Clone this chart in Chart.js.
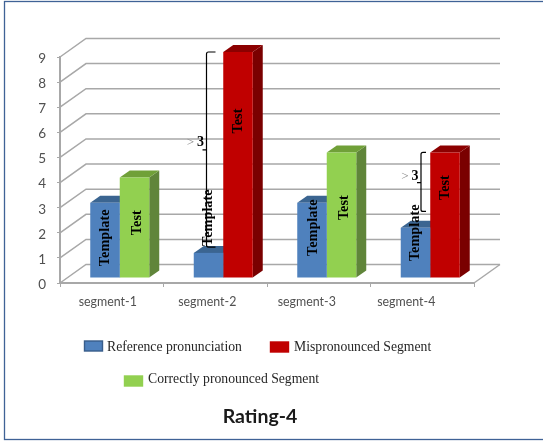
<!DOCTYPE html>
<html>
<head>
<meta charset="utf-8">
<title>Rating-4</title>
<script src="https://cdn.jsdelivr.net/npm/chart.js@4/dist/chart.umd.min.js"></script>
<style>
  html, body { margin: 0; padding: 0; background: #fff; }
  canvas { display: block; }
</style>
</head>
<body>
<canvas id="chart" width="543" height="441"></canvas>
<script>
const segments = ['segment-1', 'segment-2', 'segment-3', 'segment-4'];
const referenceValues = [3, 1, 3, 2];
const mispronouncedValues = [null, 9, null, 5];
const correctValues = [4, null, 5, null];
const valueTicks = [0, 1, 2, 3, 4, 5, 6, 7, 8, 9];
const chartTitle = 'Rating-4';

const SERIF = '"Liberation Serif", "Times New Roman", serif';
const SANS = 'Lato, "Open Sans", sans-serif';
const AXIS_TEXT = '#505050';
const GRID = '#a8a8a8';

// Perspective offsets of the pseudo-3D box
const WALL = { dx: 26, dy: -18.5 };
const BAR_SHIFT = { dx: 8, dy: -5 };
const BAR_DEPTH = { dx: 10, dy: -7 };

function quad(ctx, pts, fill) {
  ctx.fillStyle = fill;
  ctx.beginPath();
  pts.forEach((p, i) => i ? ctx.lineTo(p[0], p[1]) : ctx.moveTo(p[0], p[1]));
  ctx.closePath();
  ctx.fill();
}

// Left-facing curly brace between two pixel heights
function brace(ctx, x, top, bottom, mid, hook, tip) {
  ctx.strokeStyle = '#000';
  ctx.lineWidth = 1.2;
  ctx.beginPath();
  ctx.moveTo(x + hook, top);
  ctx.lineTo(x + 2, top);
  ctx.quadraticCurveTo(x, top, x, top + 2);
  ctx.lineTo(x, bottom - 2);
  ctx.quadraticCurveTo(x, bottom, x + 2, bottom);
  ctx.lineTo(x + hook, bottom);
  ctx.moveTo(x, mid);
  ctx.lineTo(x - tip, mid);
  ctx.stroke();
}

const rendering3d = {
  id: 'rendering3d',
  beforeDatasetsDraw(chart, args, opts) {
    const { ctx, scales: { x, y } } = chart;
    const left = x.left, right = x.right;
    ctx.save();

    // Back wall lines, their diagonals and the floor edge
    ctx.strokeStyle = GRID;
    ctx.lineWidth = 1.5;
    valueTicks.forEach(v => {
      const py = y.getPixelForValue(v);
      ctx.beginPath();
      ctx.moveTo(left, py);
      ctx.lineTo(left + WALL.dx, py + WALL.dy);
      ctx.lineTo(right + WALL.dx, py + WALL.dy);
      ctx.stroke();
    });
    const floor = y.getPixelForValue(0);
    ctx.beginPath();
    ctx.moveTo(right, floor);
    ctx.lineTo(right + WALL.dx, floor + WALL.dy);
    ctx.stroke();

    // Top and side faces sit behind every front face
    chart.data.datasets.forEach((ds, di) => {
      const meta = chart.getDatasetMeta(di);
      meta.data.forEach((bar, i) => {
        if (ds.data[i] === null) return;
        const half = bar.width / 2;
        const l = bar.x - half + BAR_SHIFT.dx;
        const r = bar.x + half + BAR_SHIFT.dx;
        const t = bar.y + BAR_SHIFT.dy;
        const b = bar.base + BAR_SHIFT.dy;
        const dx = BAR_DEPTH.dx, dy = BAR_DEPTH.dy;
        quad(ctx, [[r, t], [r + dx, t + dy], [r + dx, b + dy], [r, b]], ds.sideColor);
        quad(ctx, [[l, t], [l + dx, t + dy], [r + dx, t + dy], [r, t]], ds.topColor);
      });
    });
    ctx.restore();

    // Front faces are drawn by the bar controller, moved onto the box's front plane
    ctx.save();
    ctx.translate(BAR_SHIFT.dx, BAR_SHIFT.dy);
  },
  afterDatasetsDraw(chart) {
    chart.ctx.restore();
  },
  afterDraw(chart, args, opts) {
    const { ctx, scales: { x, y } } = chart;
    ctx.save();

    // Outer frame, open past the right edge
    ctx.strokeStyle = '#3f6296';
    ctx.lineWidth = 1.3;
    ctx.strokeRect(4.5, 1.5, 600, 438);

    // Category labels sit on a slightly tighter pitch than the bars
    ctx.fillStyle = AXIS_TEXT;
    ctx.textAlign = 'center';
    ctx.textBaseline = 'middle';
    ctx.font = '12.4px ' + SANS;
    segments.forEach((name, i) => {
      ctx.fillText(name, x.getPixelForValue(i) - 4 - 4 * i, y.bottom + 19);
    });

    // Rotated labels inside the bars
    ctx.fillStyle = '#000';
    ctx.font = 'bold 14.3px ' + SERIF;
    opts.barNotes.forEach(note => {
      const bar = chart.getDatasetMeta(note.dataset).data[note.index];
      ctx.save();
      ctx.translate(bar.x + BAR_SHIFT.dx + note.nudge, y.getPixelForValue(note.at));
      ctx.rotate(-Math.PI / 2);
      ctx.fillText(note.text, 0, 0);
      ctx.restore();
    });

    // Difference braces with their "> 3" captions
    opts.braces.forEach(b => {
      const bar = chart.getDatasetMeta(0).data[b.index];
      const bx = bar.x + BAR_SHIFT.dx + b.nudge;
      const midY = y.getPixelForValue(b.mid);
      brace(ctx, bx, y.getPixelForValue(b.top), y.getPixelForValue(b.bottom), midY, b.hook, 4);
      const capY = y.getPixelForValue(b.caption);
      ctx.textAlign = 'center';
      ctx.font = '13px ' + SERIF;
      ctx.fillStyle = '#8a8a8a';
      ctx.fillText('>', bx - 16, capY);
      ctx.font = 'bold 14px ' + SERIF;
      ctx.fillStyle = '#000';
      ctx.fillText('3', bx - 6, capY);
    });

    // Legend in two rows
    ctx.textAlign = 'left';
    ctx.font = '13.7px ' + SERIF;
    opts.legendRows.forEach(item => {
      const ds = chart.data.datasets[item.dataset];
      ctx.fillStyle = ds.backgroundColor;
      ctx.fillRect(item.x, item.y, 18, 10);
      ctx.strokeStyle = ds.legendEdge;
      ctx.lineWidth = 1.4;
      ctx.strokeRect(item.x, item.y, 18, 10);
      ctx.fillStyle = '#262626';
      ctx.fillText(ds.label, item.x + item.gap, item.y + item.textDrop);
    });

    // Caption under the legend
    ctx.textAlign = 'center';
    ctx.fillStyle = '#1a1a1a';
    ctx.font = 'bold 19.5px ' + SANS;
    ctx.fillText(chartTitle, 260, 417);
    ctx.restore();
  }
};

new Chart(document.getElementById('chart'), {
  type: 'bar',
  plugins: [rendering3d],
  data: {
    labels: segments,
    datasets: [
      { label: 'Reference pronunciation', data: referenceValues, backgroundColor: '#4f81bd',
        topColor: '#3b6591', sideColor: '#3b6591', legendEdge: '#385d8a' },
      { label: 'Mispronounced Segment', data: mispronouncedValues, backgroundColor: '#c00000',
        topColor: '#8c0000', sideColor: '#7a0000', legendEdge: '#c00000' },
      { label: 'Correctly pronounced Segment', data: correctValues, backgroundColor: '#92d050',
        topColor: '#70a038', sideColor: '#60853a', legendEdge: '#92d050' }
    ].map(ds => Object.assign(ds, {
      skipNull: true, clip: false, borderWidth: 0,
      categoryPercentage: 0.57, barPercentage: 1
    }))
  },
  options: {
    responsive: false,
    animation: false,
    events: [],
    layout: { padding: { left: 0, top: 57, right: 69, bottom: 128 } },
    scales: {
      x: {
        afterFit(scale) { scale.height = 30; },
        border: { color: GRID, width: 2 },
        grid: { drawOnChartArea: false, drawTicks: true, tickLength: 4, color: GRID, lineWidth: 1 },
        ticks: { display: false }
      },
      y: {
        min: 0,
        max: 9,
        afterFit(scale) { scale.width = 60; },
        afterBuildTicks(scale) { scale.ticks = valueTicks.map(value => ({ value })); },
        border: { color: GRID, width: 2 },
        grid: { drawOnChartArea: false, drawTicks: true, tickLength: 3, color: GRID, lineWidth: 1 },
        ticks: { color: AXIS_TEXT, font: { family: SANS, size: 13.5 }, padding: 11, labelOffset: 1.5 }
      }
    },
    plugins: {
      legend: { display: false },
      tooltip: { enabled: false },
      title: { display: false },
      rendering3d: {
        barNotes: [
          { dataset: 0, index: 0, text: 'Template', at: 1.8, nudge: 0 },
          { dataset: 2, index: 0, text: 'Test', at: 2.4, nudge: 2.5 },
          { dataset: 0, index: 1, text: 'Template', at: 2.6, nudge: 0 },
          { dataset: 1, index: 1, text: 'Test', at: 6.45, nudge: 0.5 },
          { dataset: 0, index: 2, text: 'Template', at: 2.2, nudge: 1 },
          { dataset: 2, index: 2, text: 'Test', at: 3.0, nudge: 3 },
          { dataset: 0, index: 3, text: 'Template', at: 2.0, nudge: 0 },
          { dataset: 1, index: 3, text: 'Test', at: 3.8, nudge: 0 }
        ],
        braces: [
          { index: 1, nudge: -2, top: 9.2, bottom: 1.43, mid: 5.3, caption: 5.6, hook: 9 },
          { index: 3, nudge: 5.5, top: 5.2, bottom: 2.85, mid: 4, caption: 4.25, hook: 5 }
        ],
        legendRows: [
          { dataset: 0, x: 84.5, y: 341, gap: 22.5, textDrop: 6.5 },
          { dataset: 1, x: 270.5, y: 342, gap: 23.5, textDrop: 5.5 },
          { dataset: 2, x: 124.5, y: 376, gap: 23.5, textDrop: 3 }
        ]
      }
    }
  }
});
</script>
</body>
</html>
